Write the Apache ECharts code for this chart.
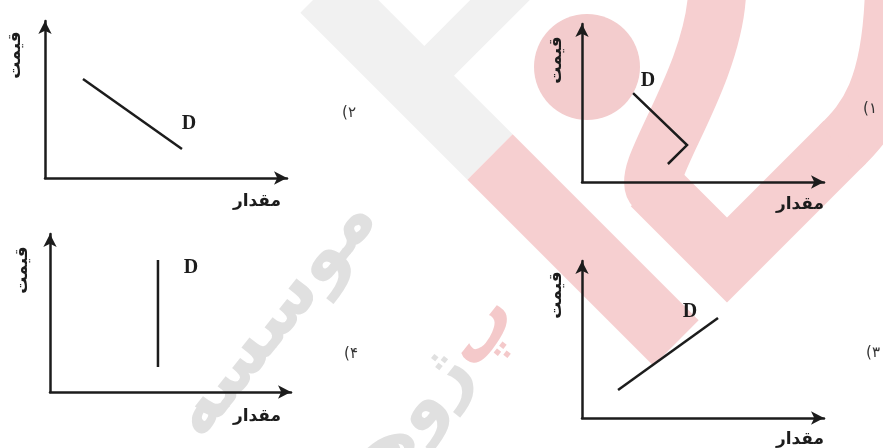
<!DOCTYPE html>
<html>
<head>
<meta charset="utf-8">
<script src="https://cdn.jsdelivr.net/npm/echarts@6/dist/echarts.min.js"></script>
<style>html,body{margin:0;padding:0;background:#fff}#c{width:883px;height:448px}</style>
</head>
<body>
<div id="c"></div>
<script>
// ---- data ----
const panelNumbers = ['۱', '۲', '۳', '۴'];
const priceLabel = 'قیمت';
const quantityLabel = 'مقدار';
const curveName = 'D';
// panel 1 (kinked demand curve)
const curve1X = [2.11, 4.34, 3.55];
const curve1Y = [5.63, 2.34, 1.14];
// panel 2 (downward sloping)
const curve2X = [1.57, 5.66];
const curve2Y = [6.31, 1.85];
// panel 3 (upward sloping)
const curve3X = [1.49, 5.62];
const curve3Y = [1.78, 6.37];
// panel 4 (vertical)
const curve4X = [4.48, 4.48];
const curve4Y = [8.35, 1.58];

const curves = [
  [curve1X, curve1Y], [curve2X, curve2Y], [curve3X, curve3Y], [curve4X, curve4Y]
];

// ---- layout ----
const grids = [
  {left: 582, top: 24, width: 242, height: 158},
  {left: 45, top: 21, width: 242, height: 157},
  {left: 582, top: 261, width: 242, height: 157},
  {left: 50, top: 234, width: 241, height: 158}
];
const ink = '#1c1c1c';
const axisStyle = {
  show: true, onZero: false,
  symbol: ['none', 'arrow'], symbolSize: [10, 13],
  lineStyle: {color: ink, width: 2.5}
};
const xAxes = grids.map((g, i) => ({
  type: 'value', gridIndex: i, min: 0, max: 10,
  axisLine: axisStyle, axisTick: {show: false}, axisLabel: {show: false}, splitLine: {show: false}
}));
const yAxes = grids.map((g, i) => ({
  type: 'value', gridIndex: i, min: 0, max: 10,
  axisLine: axisStyle, axisTick: {show: false}, axisLabel: {show: false}, splitLine: {show: false}
}));
const series = curves.map((c, i) => ({
  type: 'line', name: curveName, xAxisIndex: i, yAxisIndex: i,
  data: c[0].map((x, k) => [x, c[1][k]]),
  symbol: 'none', silent: true, z: 5,
  lineStyle: {color: ink, width: 2.5, cap: 'butt', join: 'miter'}
}));

const pink = '#f6cfd0';
const grey = '#f1f1f1';
const wmText = '#e0e0e0';
const wm = [
  {type: 'polyline', z: -10, shape: {points: [[323, -10], [490, 157]]}, style: {stroke: grey, lineWidth: 64, fill: null}},
  {type: 'polyline', z: -10, shape: {points: [[432, 68], [515, -15]]}, style: {stroke: grey, lineWidth: 42, fill: null}},
  {type: 'polyline', z: -9, shape: {points: [[490, 157], [676, 343]]}, style: {stroke: pink, lineWidth: 64, fill: null}},
  {type: 'polyline', z: -9, shape: {points: [[652, 185], [727, 260], [845, 142]]}, style: {stroke: pink, lineWidth: 60, lineJoin: 'miter', fill: null}},
  {type: 'bezierCurve', z: -9, shape: {x1: 655, y1: 188, cpx1: 640, cpy1: 173, cpx2: 712, cpy2: 80, x2: 717, y2: -5}, style: {stroke: pink, lineWidth: 58, fill: null}},
  {type: 'bezierCurve', z: -9, shape: {x1: 840, y1: 147, cpx1: 868, cpy1: 120, cpx2: 892, cpy2: 90, x2: 895, y2: -10}, style: {stroke: pink, lineWidth: 60, fill: null}},
  {type: 'circle', z: -9, shape: {cx: 587, cy: 67, r: 53}, style: {fill: '#f3cccd'}},
  {type: 'text', z: -8, x: 275, y: 318, rotation: 0.9,
    style: {text: 'موسسه', fontSize: 74, fontWeight: 'bold', fontFamily: 'DejaVu Sans', fill: wmText, align: 'center', verticalAlign: 'middle'}},
  {type: 'text', z: -8, x: 408, y: 425, rotation: 0.9,
    style: {text: '{b|ژوهش}{a|پ}', fontSize: 72, fontWeight: 'bold', fontFamily: 'DejaVu Sans', align: 'center', verticalAlign: 'middle',
      rich: {a: {fill: '#f4c9ca', fontSize: 72, fontWeight: 'bold', fontFamily: 'DejaVu Sans'}, b: {fill: wmText, fontSize: 72, fontWeight: 'bold', fontFamily: 'DejaVu Sans'}}}}
];

function label(text, x, y, opts) {
  return Object.assign({type: 'text', z: 50, x: x, y: y,
    style: Object.assign({text: text, fill: ink, align: 'center', verticalAlign: 'middle',
      fontFamily: 'DejaVu Sans', fontSize: 17, fontWeight: 'bold'}, opts.style || {})}, opts.el || {});
}
const priceLabelPos = [[557, 60], [16, 55], [557, 295], [23, 270]];
const quantityLabelPos = [[800, 205], [257, 202], [800, 440], [257, 417]];
const dLabelPos = [[648, 81], [189, 124], [690, 312], [191, 268]];
const numberPos = [[870, 109], [349, 113], [873, 353], [351, 354]];

const texts = [];
for (let i = 0; i < 4; i++) {
  texts.push(label(priceLabel, priceLabelPos[i][0], priceLabelPos[i][1], {el: {rotation: Math.PI / 2}}));
  texts.push(label(quantityLabel, quantityLabelPos[i][0], quantityLabelPos[i][1], {}));
  texts.push(label(curveName, dLabelPos[i][0], dLabelPos[i][1], {style: {fontFamily: 'Liberation Serif', fontSize: 20}}));
  // force visual order "(" then digit
  texts.push(label('\u202D(' + panelNumbers[i] + '\u202C', numberPos[i][0], numberPos[i][1], {style: {fontSize: 15, fontWeight: 'normal', fill: '#333'}}));
}

const chart = echarts.init(document.getElementById('c'), null, {renderer: 'canvas'});
chart.setOption({
  backgroundColor: '#ffffff',
  animation: false,
  grid: grids.map(g => Object.assign({containLabel: false}, g)),
  xAxis: xAxes,
  yAxis: yAxes,
  series: series,
  graphic: {elements: wm.concat(texts)}
});
</script>
</body>
</html>
